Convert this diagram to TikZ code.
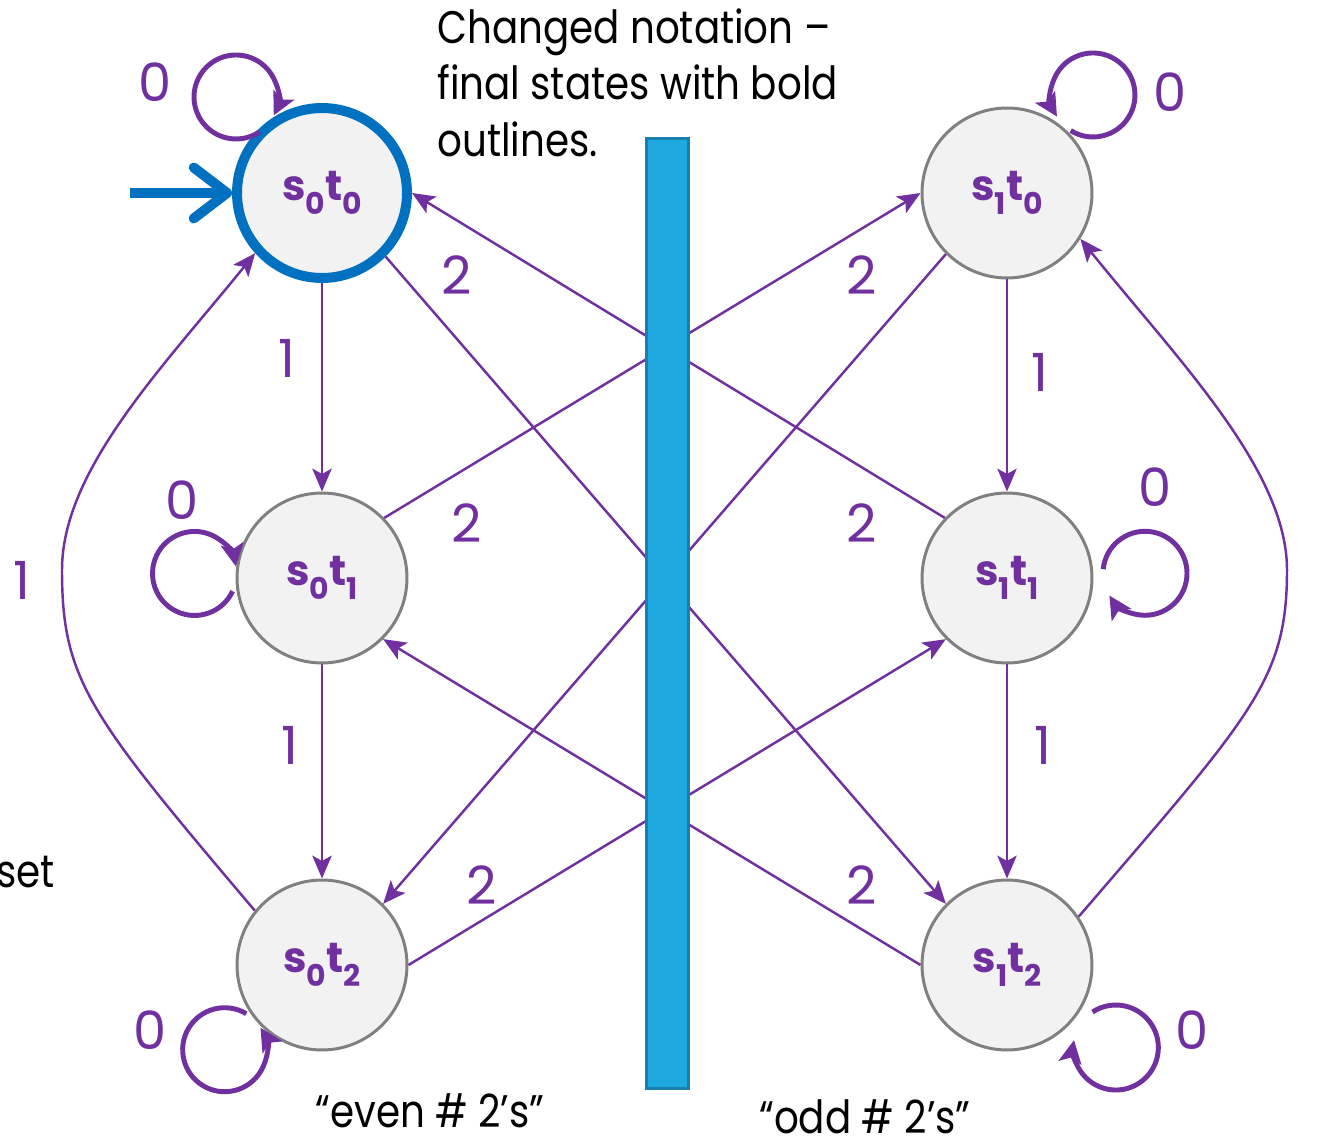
\documentclass[tikz,border=0pt]{standalone}
\usepackage{fontspec}
\setmainfont{Poppins}
\newfontfamily\notefont[FakeStretch=0.85]{Poppins}
\usetikzlibrary{arrows.meta}
\definecolor{purp}{HTML}{7030A0}
\definecolor{stategray}{HTML}{808080}
\definecolor{statefill}{HTML}{F2F2F2}
\definecolor{startblue}{HTML}{0070C0}
\definecolor{barfill}{HTML}{1EAAE1}
\definecolor{barline}{HTML}{1880AF}
\newcommand{\subnum}[1]{\raisebox{-0.32em}{\fontsize{17}{17}\selectfont #1}}
\begin{document}
\begin{tikzpicture}[x=0.02cm,y=-0.02cm,
  state/.style={circle, draw=stategray, fill=statefill, line width=1.7pt, minimum size=3.4cm, inner sep=0pt, text=purp, font=\fontsize{24}{24}\selectfont\bfseries},
  finalstate/.style={state, draw=startblue, line width=5.67pt},
  edge/.style={draw=purp, line width=1.4pt, -{Stealth[length=13pt,width=11pt,inset=3pt]}},
  selfloop/.style={draw=purp, line width=2.8pt, -{Stealth[length=13pt,width=13pt,inset=3pt]}},
  startarrow/.style={draw=startblue, line width=5.67pt, -{Straight Barb[length=19pt,width=29pt,round]}},
  lbl/.style={text=purp, font=\fontsize{30}{30}\selectfont, inner sep=0pt},
  note/.style={font=\notefont\fontsize{26}{32.3}\selectfont, inner sep=0pt, text=black},
  divider/.style={draw=barline, fill=barfill, line width=1.7pt, minimum width=0.84cm, minimum height=19cm, inner sep=0pt}]
\useasboundingbox (0,0) rectangle (1327,1141);
% states
\node[finalstate] (s0t0) at (322,193) {s\subnum{0}t\subnum{0}};
\node[state] (s0t1) at (322,578) {s\subnum{0}t\subnum{1}};
\node[state] (s0t2) at (322,965) {s\subnum{0}t\subnum{2}};
\node[state] (s1t0) at (1007,193) {s\subnum{1}t\subnum{0}};
\node[state] (s1t1) at (1007,578) {s\subnum{1}t\subnum{1}};
\node[state] (s1t2) at (1007,965) {s\subnum{1}t\subnum{2}};
% start arrow
\coordinate (start) at (130,193);
\draw[startarrow] (start) -- (s0t0.west);
% transitions on 1
\draw[edge] (s0t0) -- (s0t1);
\draw[edge] (s0t1) -- (s0t2);
\draw[edge] (s1t0) -- (s1t1);
\draw[edge] (s1t1) -- (s1t2);
\coordinate (lbend) at (62,570);
\coordinate (rbend) at (1287,570);
\draw[edge] (s0t2.141) .. controls (89,715) and (62,680) .. (lbend) .. controls (62,470) and (163,367) .. (s0t0.222);
\draw[edge] (s1t2.34) .. controls (1252,715) and (1287,680) .. (rbend) .. controls (1287,470) and (1178,360) .. (s1t0.328);
% transitions on 2
\draw[edge] (s0t0.315) -- (s1t2.135);
\draw[edge] (s1t0.225) -- (s0t2.45);
\draw[edge] (s0t1.44) -- (s1t0.west);
\draw[edge] (s1t1.136) -- (s0t0.east);
\draw[edge] (s0t2.east) -- (s1t1.225);
\draw[edge] (s1t2.west) -- (s0t1.315);
% self loops on 0
\draw[selfloop] (s0t0.center) ++(-62.5,-61.2) arc[start angle=56, end angle=386, radius=42];
\draw[selfloop] (s0t1.center) ++(-89.4,13.2) arc[start angle=25, end angle=350.5, radius=42];
\draw[selfloop] (s0t2.center) ++(-75.7,48.7) arc[start angle=-59, end angle=-391.6, radius=42];
\draw[selfloop] (s1t0.center) ++(63.7,-62.4) arc[start angle=122, end angle=-211, radius=42];
\draw[selfloop] (s1t1.center) ++(96.2,-8.8) arc[start angle=185.6, end angle=508, radius=42];
\draw[selfloop] (s1t2.center) ++(85.5,47) arc[start angle=236.7, end angle=550, radius=42.5];
% divider bar
\node[divider] (bar) at (667.5,613.5) {};
% labels
\node[lbl] (l00) at (155,82) {0};
\node[lbl] (l01) at (182,500) {0};
\node[lbl] (l02) at (150,1030) {0};
\node[lbl] (l10) at (1170,92) {0};
\node[lbl] (l11) at (1155,487) {0};
\node[lbl] (l12) at (1192,1030) {0};
\node[lbl] (la) at (287,358) {1};
\node[lbl] (lb) at (290,745) {1};
\node[lbl] (lc) at (1040,372) {1};
\node[lbl] (ld) at (1043,745) {1};
\node[lbl] (le) at (22,580) {1};
\node[lbl] (lf) at (1334,580) {1};
\node[lbl] (m1) at (457,275) {2};
\node[lbl] (m2) at (862,275) {2};
\node[lbl] (m3) at (467,523) {2};
\node[lbl] (m4) at (862,523) {2};
\node[lbl] (m5) at (482,885) {2};
\node[lbl] (m6) at (862,885) {2};
% notes
\node[note, anchor=north west, align=left] (changed) at (437,8) {Changed notation –\\final states with bold\\outlines.};
\node[note] (even) at (430,1111) {“even \# 2’s”};
\node[note] (odd) at (865,1117) {“odd \# 2’s”};
\node[note, anchor=east] (setw) at (55,872) {set};
\end{tikzpicture}
\end{document}
